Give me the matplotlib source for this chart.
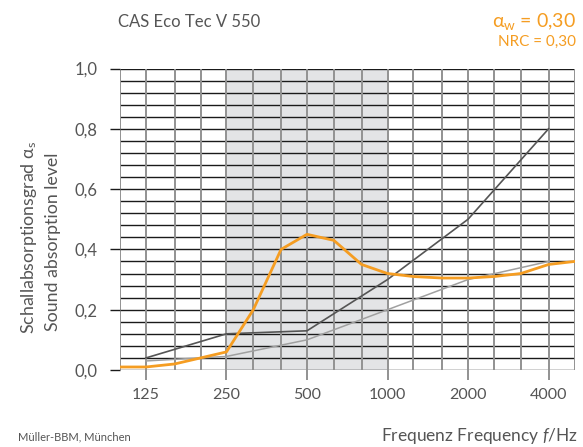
import numpy as np
import matplotlib
matplotlib.use('Agg')
import matplotlib.pyplot as plt

plt.rcParams['font.family'] = ['Lato', 'DejaVu Sans']
plt.rcParams['mathtext.fontset'] = 'custom'
plt.rcParams['mathtext.rm'] = 'Lato'
plt.rcParams['mathtext.it'] = 'Lato:italic'

# third-octave band centres shown on the grid
freqs = [100, 125, 160, 200, 250, 315, 400, 500, 630, 800, 1000,
         1250, 1600, 2000, 2500, 3150, 4000, 5000]
tick_freqs = [125, 250, 500, 1000, 2000, 4000]
tick_labels = ['125', '250', '500', '1000', '2000', '4000']

# measured absorption (orange)
alpha_s = [0.01, 0.01, 0.02, 0.04, 0.06, 0.20, 0.40, 0.45, 0.43, 0.35, 0.32,
           0.31, 0.305, 0.305, 0.31, 0.32, 0.35, 0.36]

# reference curves (octave bands)
ref_freqs = [125, 250, 500, 1000, 2000, 4000]
ref_dark = [0.04, 0.12, 0.13, 0.30, 0.50, 0.80]
ref_light = [0.03, 0.045, 0.10, 0.20, 0.30, 0.36]

orange = '#f59d22'
txt = '#555555'

fig = plt.figure(figsize=(5.83, 4.47), dpi=100)
ax = fig.add_axes([120 / 583, 77 / 447, 454.5 / 583, 301.5 / 447])

ax.set_xscale('log')
ax.set_xlim(100, 5000)
ax.set_ylim(0, 1.0)

# shaded band 250 - 1000 Hz
ax.axvspan(250, 1000, color='#e3e4e6', zorder=0, lw=0)

# grid: dark horizontals every 0.04, grey verticals on every third octave
for y in np.arange(0, 1.0001, 0.04):
    ax.axhline(y, color='#1a1a1a', lw=1.0, zorder=1)
for f in freqs:
    ax.axvline(f, color='#929292', lw=1.4, zorder=1)

ax.plot(ref_freqs, ref_light, color='#a0a0a0', lw=1.1, zorder=3)
ax.plot(ref_freqs, ref_dark, color='#555555', lw=1.2, zorder=3)
ax.plot(freqs, alpha_s, color=orange, lw=2.0, zorder=4)

for s in ax.spines.values():
    s.set_visible(False)

ax.set_yticks([0, 0.2, 0.4, 0.6, 0.8, 1.0])
ax.set_yticklabels(['0,0', '0,2', '0,4', '0,6', '0,8', '1,0'])
ax.set_xticks(tick_freqs)
ax.set_xticklabels(tick_labels)
ax.xaxis.set_minor_locator(matplotlib.ticker.NullLocator())
ax.tick_params(axis='y', length=7, width=1.0, color='#1a1a1a', labelsize=12,
               labelcolor=txt, pad=9)
ax.tick_params(axis='x', length=7, width=1.4, color='#929292', labelsize=11.5,
               labelcolor=txt, pad=6)

fig.text(29 / 583, 1 - 237 / 447, 'Schallabsorptionsgrad α$_\\mathrm{s}$',
         rotation=90, ha='center', va='center', fontsize=12.8, color=txt)
fig.text(53 / 583, 1 - 242 / 447, 'Sound absorption level',
         rotation=90, ha='center', va='center', fontsize=12.8, color=txt)

fig.text(118 / 583, 1 - 22 / 447, 'CAS Eco Tec V 550', ha='left', va='center',
         fontsize=12, color=txt)
fig.text(576 / 583, 1 - 22 / 447, 'α$_\\mathrm{w}$ = 0,30', ha='right',
         va='center', fontsize=14, color=orange)
fig.text(576 / 583, 1 - 42 / 447, 'NRC = 0,30', ha='right', va='center',
         fontsize=11, color=orange)

fig.text(18 / 583, 1 - 437 / 447, 'Müller-BBM, München', ha='left', va='center',
         fontsize=8, color=txt)
fig.text(578 / 583, 1 - 436 / 447, 'Frequenz Frequency $f$/Hz', ha='right',
         va='center', fontsize=12.5, color=txt)

fig.savefig('out.png', dpi=100)
